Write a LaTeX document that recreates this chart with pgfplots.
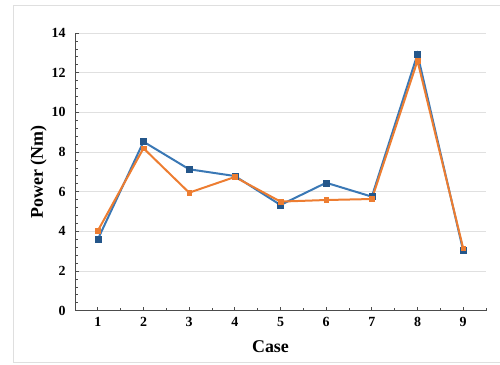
\documentclass[border=0pt]{standalone}
\usepackage{pgfplots}
\pgfplotsset{compat=1.18}
\usepackage{fontspec}
\setmainfont{Liberation Serif}
\definecolor{serblue}{HTML}{3A78B5}
\definecolor{mkblue}{HTML}{24568A}
\definecolor{serorange}{HTML}{ED7D31}
\begin{document}
\begin{tikzpicture}
\useasboundingbox (0bp,0bp) rectangle (500bp,365bp);
\draw[gray!25, line width=1bp] (500bp,359bp) -- (13bp,359bp) -- (13bp,2bp) -- (500bp,2bp);
\begin{axis}[
  at={(75bp,54.3bp)}, anchor=south west,
  scale only axis, width=411bp, height=277.7bp,
  xmin=0.5, xmax=9.5, ymin=0, ymax=14,
  axis x line*=bottom, axis y line*=left,
  axis line style={draw=black!70, line width=0.8bp},
  xtick={1,...,9}, minor xtick={0.5,1.5,...,9.5},
  ytick={0,2,...,14}, minor ytick={0,0.4,...,14},
  tick style={draw=black!70, line width=0.7bp},
  major tick length=4bp, minor tick length=3bp,
  ymajorgrids, major grid style={draw=black!12, line width=0.8bp},
  tick label style={font=\fontsize{14}{14}\selectfont\bfseries},
  /pgf/number format/assume math mode=true,
  xticklabel style={yshift=-3bp},
  yticklabel style={xshift=-6bp},
  xlabel={Case}, ylabel={Power (Nm)},
  xlabel style={font=\fontsize{18}{18}\selectfont\bfseries, yshift=-7bp, xshift=-10bp},
  ylabel style={font=\fontsize{18}{18}\selectfont\bfseries, yshift=-2bp},
  clip=false,
]
\addplot[serblue, line width=2bp, mark=square*, mark size=3bp,
  mark options={fill=mkblue, draw=mkblue, line width=0.5bp}]
  coordinates {(1,3.6) (2,8.52) (3,7.13) (4,6.79) (5,5.33) (6,6.45) (7,5.75) (8,12.93) (9,3.03)};
\addplot[serorange, line width=2bp, mark=square*, mark size=2.3bp,
  mark options={fill=serorange, draw=serorange, line width=0.5bp}]
  coordinates {(1,4.03) (2,8.19) (3,5.95) (4,6.74) (5,5.5) (6,5.58) (7,5.63) (8,12.6) (9,3.15)};
\end{axis}
\end{tikzpicture}
\end{document}
